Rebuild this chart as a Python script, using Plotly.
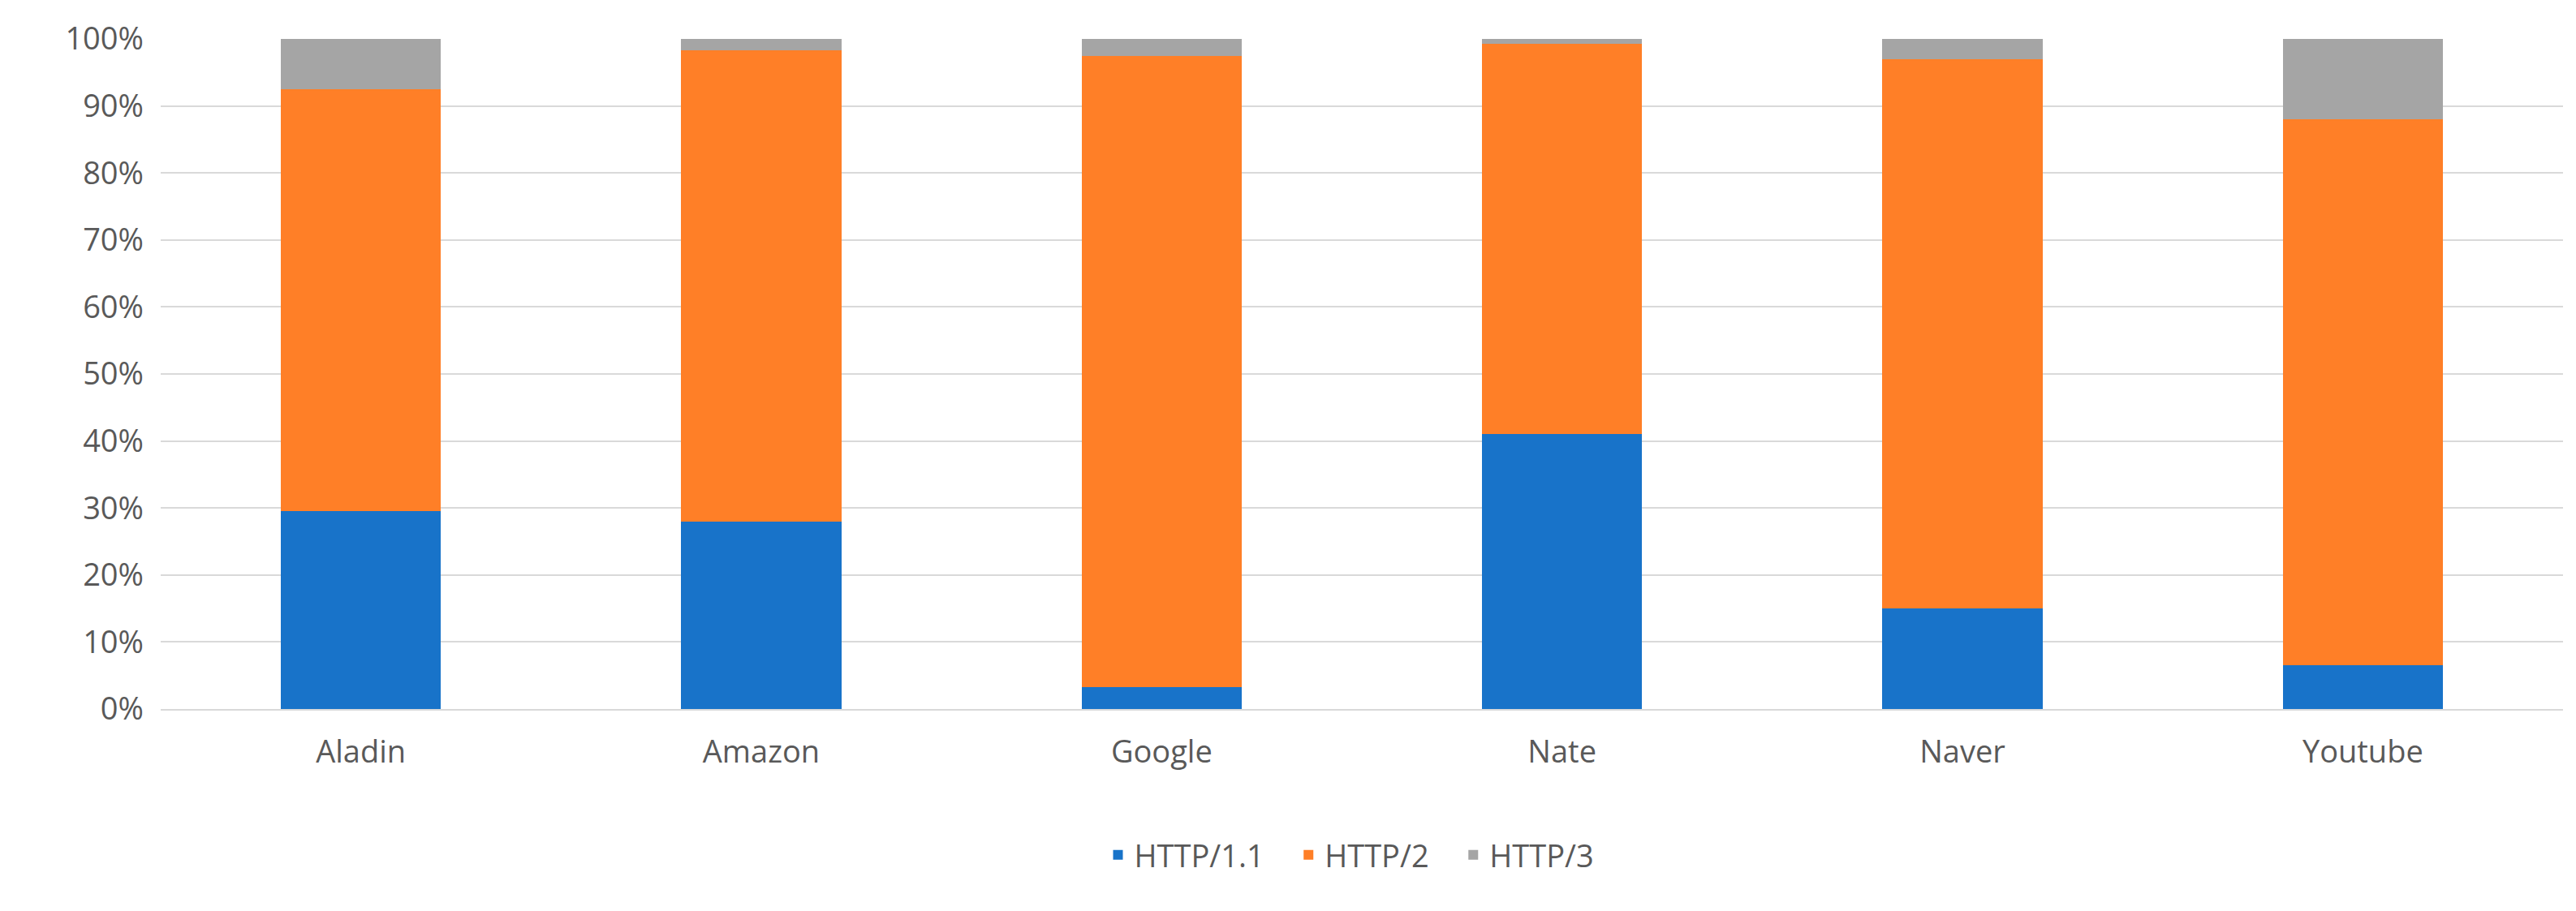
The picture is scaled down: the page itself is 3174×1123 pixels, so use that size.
import plotly.graph_objects as go

sites = ["Aladin", "Amazon", "Google", "Nate", "Naver", "Youtube"]
http11 = [29.5, 28.0, 3.3, 41.0, 15.0, 6.5]
http2 = [63.0, 70.3, 94.2, 58.3, 82.0, 81.5]
http3 = [7.5, 1.7, 2.5, 0.7, 3.0, 12.0]
series = [("HTTP/1.1", http11, "#1873C9"), ("HTTP/2", http2, "#FF7F27"), ("HTTP/3", http3, "#A5A5A5")]

fig = go.Figure()
for name, vals, col in series:
    fig.add_bar(x=sites, y=[v / 100 for v in vals], name=name + "   ", marker_color=col, marker_line_width=0)

font = dict(family="Open Sans", size=38, color="#595959")
fig.update_layout(
    barmode="stack", bargap=0.6, width=3174, height=1123,
    margin=dict(l=190, r=24, t=40, b=257),
    plot_bgcolor="white", paper_bgcolor="white", font=font,
    legend=dict(orientation="h", x=0.5, xanchor="center", y=-0.218, yanchor="middle",
                font=font, itemwidth=30, traceorder="normal"),
    yaxis=dict(range=[0, 1], tickformat=".0%", dtick=0.1, gridcolor="#D9D9D9", gridwidth=2,
               zeroline=False, ticks="", ticklabelstandoff=20),
    xaxis=dict(showline=True, linecolor="#D9D9D9", linewidth=2, ticks="", ticklabelstandoff=18),
)
fig.write_html("out.html")
